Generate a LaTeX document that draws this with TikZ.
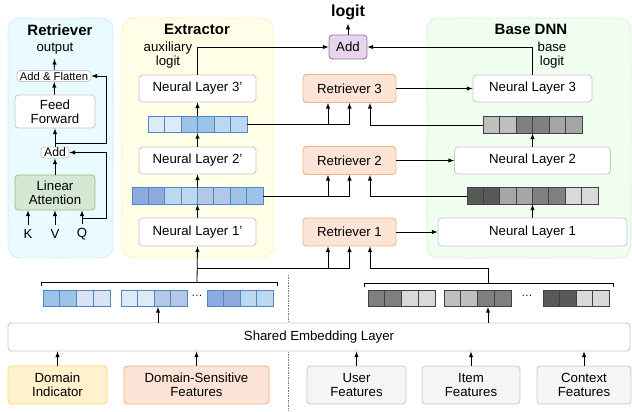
\documentclass[tikz,border=0pt]{standalone}
\usepackage{fontspec}
\setmainfont{Liberation Sans}
\usetikzlibrary{arrows,positioning}
\definecolor{cyanfill}{HTML}{EAFBFF}
\definecolor{cyanline}{HTML}{A8DDF0}
\definecolor{yelfill}{HTML}{FFFFE8}
\definecolor{yelline}{HTML}{FFE07A}
\definecolor{grnfill}{HTML}{F0FFF0}
\definecolor{grnline}{HTML}{B9E0A5}
\definecolor{laygray}{HTML}{C8C8C8}
\definecolor{retfill}{HTML}{FCE4D6}
\definecolor{retline}{HTML}{F4B183}
\definecolor{attfill}{HTML}{D5E8D4}
\definecolor{attline}{HTML}{97C07E}
\definecolor{addfill}{HTML}{E6D5EC}
\definecolor{addline}{HTML}{9673A6}
\definecolor{domfill}{HTML}{FFF2CC}
\definecolor{domline}{HTML}{FFD966}
\definecolor{featfill}{HTML}{F5F5F5}
\definecolor{bluecell}{HTML}{4A86C8}
\definecolor{bA}{HTML}{9DC3E6}
\definecolor{bB}{HTML}{DAE3F3}
\definecolor{bC}{HTML}{DEEBF7}
\definecolor{bD}{HTML}{B4C7E7}
\definecolor{bE}{HTML}{8FAADC}
\definecolor{bF}{HTML}{BDD7EE}
\definecolor{graycell}{HTML}{404040}
\definecolor{gA}{HTML}{595959}
\definecolor{gB}{HTML}{808080}
\definecolor{gC}{HTML}{A6A6A6}
\definecolor{gD}{HTML}{BFBFBF}
\definecolor{gE}{HTML}{D9D9D9}
\newcommand{\pxu}{0.03cm}
% one row of embedding cells: left x, top y, cell width, border, fills
\newcommand{\cellrow}[5]{%
  \foreach \cc [count=\ii from 0] in {#5}
    \draw[cell,draw=#4,fill=\cc] ({#1+\ii*#3},#2) rectangle ++(#3,16.5);
}
\tikzset{>=latex,font=\fontsize{11.3}{12}\selectfont}
\tikzset{
  panel/.style={rounded corners=10pt,densely dotted,line width=0.7pt},
  layer/.style={draw=laygray,fill=white,rounded corners=3pt,line width=0.7pt,inner sep=0pt,align=center},
  retr/.style={layer,draw=retline,fill=retfill},
  small/.style={font=\fontsize{9.6}{11}\selectfont},
  title/.style={font=\fontsize{12.8}{14}\selectfont\bfseries},
  vec/.style={inner sep=0pt,minimum height=16.5*\pxu},
  cell/.style={line width=0.7pt},
  wire/.style={line width=0.7pt}
}

\begin{document}
\begin{tikzpicture}[x=0.03cm,y=-0.03cm]
\useasboundingbox (0,0) rectangle (632,411);

% panels
\draw[panel,fill=cyanfill,draw=cyanline] (8,18) rectangle (113,258);
\draw[panel,fill=yelfill,draw=yelline] (122,18) rectangle (273,258);
\draw[panel,fill=grnfill,draw=grnline] (427,18) rectangle (631,258);

% retriever detail
\node[title] (rtitle) at (60,30) {Retriever};
\node (out) at (55,49) {output};
\node[layer,small,minimum width=74*\pxu,minimum height=11*\pxu] (aflat) at (54,76) {Add \& Flatten};
\node[layer,minimum width=80*\pxu,minimum height=33*\pxu] (ffwd) at (55,111.5) {Feed\\Forward};
\node[layer,font=\fontsize{10.4}{11}\selectfont,minimum width=28*\pxu,minimum height=11*\pxu] (radd) at (55,152.5) {Add};
\node[layer,draw=attline,fill=attfill,minimum width=80*\pxu,minimum height=35*\pxu] (latt) at (55,192.5) {Linear\\Attention};
\node (kin) at (28,234) {K};
\node (vin) at (55,234) {V};
\node (qin) at (82,234) {Q};
\coordinate (res) at (55,143);
\coordinate (qsplit) at (82,218);
\draw[wire,->] (kin) -- (kin |- latt.south);
\draw[wire,->] (vin) -- (vin |- latt.south);
\draw[wire,->] (qin) -- (qin |- latt.south);
\draw[wire,->] (latt) -- (radd);
\draw[wire,->] (radd) -- (ffwd);
\draw[wire,->] (ffwd) -- (aflat);
\draw[wire,->] (aflat) -- (out);
\draw[wire,->] (qsplit) -- (106,218) |- (radd.east);
\draw[wire,->] (res) -- (106,143) |- (aflat.east);

% extractor
\node[title] (etitle) at (197,29) {Extractor};
\node[align=center] (auxl) at (168,55) {auxiliary\\logit};
\node[layer,minimum width=117*\pxu,minimum height=27*\pxu] (enl3) at (197.5,88.5) {Neural Layer 3'};
\node[vec,minimum width=99*\pxu] (evec2) at (197.5,124.5) {};
\node[layer,minimum width=117*\pxu,minimum height=27*\pxu] (enl2) at (197.5,160.5) {Neural Layer 2'};
\node[vec,minimum width=131*\pxu] (evec1) at (197.5,196) {};
\node[layer,minimum width=117*\pxu,minimum height=28*\pxu] (enl1) at (197.5,232) {Neural Layer 1'};
\cellrow{148}{116.25}{16.5}{bluecell}{bC,bC,bA,bA,bF,bF}
\cellrow{132}{187.75}{16.375}{bluecell}{bE,bE,bF,bF,bD,bD,bA,bA}
\draw[wire,->] (enl1) -- (evec1);
\draw[wire,->] (evec1) -- (enl2);
\draw[wire,->] (enl2) -- (evec2);
\draw[wire,->] (evec2) -- (enl3);

% retrievers and logit
\node[title,font=\fontsize{13.7}{15}\selectfont\bfseries] (logit) at (348,12) {logit};
\node[layer,draw=addline,fill=addfill,minimum width=38*\pxu,minimum height=24*\pxu] (ladd) at (348,47) {Add};
\node[retr,minimum width=93*\pxu,minimum height=28*\pxu] (ret3) at (349.5,88.5) {Retriever 3};
\node[retr,minimum width=93*\pxu,minimum height=28*\pxu] (ret2) at (349.5,160.5) {Retriever 2};
\node[retr,minimum width=93*\pxu,minimum height=28*\pxu] (ret1) at (349.5,232) {Retriever 1};
\draw[wire,->] (ladd) -- (logit);
\draw[wire,->] (enl3.north) |- (ladd.west);

% base DNN
\node[title] (btitle) at (531,29) {Base DNN};
\node[align=center] (basel) at (552,55) {base\\logit};
\node[layer,minimum width=119*\pxu,minimum height=27*\pxu] (bnl3) at (532.5,88.5) {Neural Layer 3};
\node[vec,minimum width=99*\pxu] (bvec2) at (532.5,125) {};
\node[layer,minimum width=156*\pxu,minimum height=27*\pxu] (bnl2) at (532.5,160.5) {Neural Layer 2};
\node[vec,minimum width=131*\pxu] (bvec1) at (532.5,196) {};
\node[layer,minimum width=189*\pxu,minimum height=28*\pxu] (bnl1) at (532.5,232) {Neural Layer 1};
\cellrow{483}{116.75}{16.5}{graycell}{gD,gD,gB,gB,gC,gC}
\cellrow{467}{187.75}{16.375}{graycell}{gA,gA,gC,gC,gB,gB,gE,gE}
\draw[wire,->] (bnl1) -- (bvec1);
\draw[wire,->] (bnl2) -- (bvec2);
\draw[wire,->] (bnl3.north) |- (ladd.east);
\draw[wire,->] (ret3) -- (bnl3);
\draw[wire,->] (ret2) -- (bnl2);
\draw[wire,->] (ret1) -- (bnl1);

% inputs of retrievers 3 and 2
\foreach \r/\ev/\bv in {ret3/evec2/bvec2, ret2/evec1/bvec1} {
  \draw[wire,->] (\ev.east) -| (\r.south);
  \draw[wire,->] (\ev.east -| 328,0) -- (\r.south -| 328,0);
  \draw[wire,->] (\bv.west) -| (\r.south -| 370,0);
}

% embeddings
\draw[densely dotted,gray] (288,275) -- (288,411);
\cellrow{43}{290}{16.75}{bluecell}{bA,bA,bB,bB}
\cellrow{121}{290}{16.5}{bluecell}{bC,bC,bD,bD}
\cellrow{207}{290}{16.5}{bluecell}{bE,bE,bF,bF}
\cellrow{368}{290}{16.75}{graycell}{gB,gB,gE,gE}
\cellrow{444}{290}{16.75}{graycell}{gD,gD,gB,gB}
\cellrow{543}{290}{16.5}{graycell}{gA,gA,gE,gE}
\node[small] (ldots) at (197,296) {\dots};
\node[small] (rdots) at (527,296) {\dots};
\draw[wire] (41,286) -- (41,282) -- (277,282) -- (277,286);
\draw[wire] (364,287) -- (364,283) -- (613,283) -- (613,287);
\coordinate (lbr) at (197,282);
\coordinate (rbr) at (488,283);
\coordinate (lsplit) at (197,268);
\coordinate (rsplit) at (488,268);
\draw[wire,->] (lbr) -- (enl1.south);
\draw[wire,->] (lsplit) -| (ret1.south);
\draw[wire,->] (lsplit -| 328,0) -- (ret1.south -| 328,0);
\draw[wire,->] (rbr) -- (rsplit) -| (ret1.south -| 370,0);

\node[layer,minimum width=622*\pxu,minimum height=28*\pxu] (emb) at (319,337) {Shared Embedding Layer};
\draw[wire,->] (emb.north -| 158,0) -- (158,307);
\draw[wire,->] (emb.north -| rbr) -- (488,307);

% raw features
\node[layer,draw=domline,fill=domfill,minimum width=99*\pxu,minimum height=38*\pxu] (dom) at (57.5,385) {Domain\\Indicator};
\node[retr,minimum width=145*\pxu,minimum height=38*\pxu] (dsf) at (196.5,385) {Domain-Sensitive\\Features};
\node[layer,fill=featfill,minimum width=99*\pxu,minimum height=38*\pxu] (usr) at (356.5,385) {User\\Features};
\node[layer,fill=featfill,minimum width=98*\pxu,minimum height=38*\pxu] (itm) at (471,385) {Item\\Features};
\node[layer,fill=featfill,minimum width=94*\pxu,minimum height=38*\pxu] (ctx) at (584,385) {Context\\Features};
\foreach \f in {dom,dsf,usr,itm,ctx}
  \draw[wire,->] (\f) -- (\f |- emb.south);
\end{tikzpicture}
\end{document}
